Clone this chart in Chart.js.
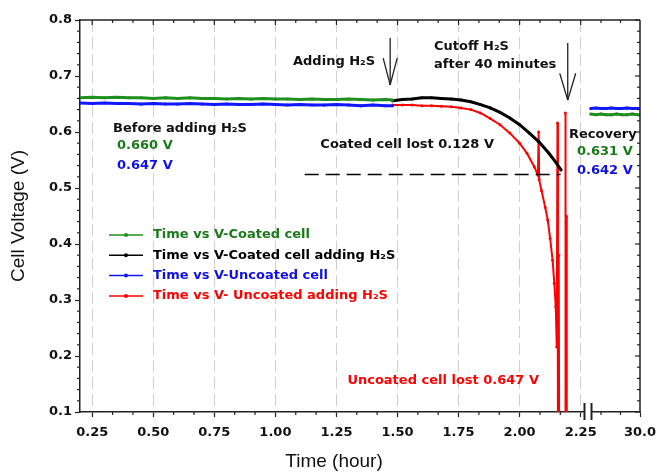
<!DOCTYPE html>
<html lang="en">
<head>
<meta charset="UTF-8">
<title>Cell Voltage vs Time</title>
<script src="https://cdn.jsdelivr.net/npm/chart.js"></script>
<style>
  body { margin: 0; background: #fff; }
  .wrap { width: 657px; height: 474px; position: relative; }
</style>
</head>
<body>
<div class="wrap"><canvas id="voltChart"></canvas></div>
<script>
// values: time in hours, voltage in V
const coatedTime = [0.20, 0.25, 0.30, 0.35, 0.40, 0.45, 0.50, 0.55, 0.60, 0.65, 0.70, 0.75, 0.80, 0.85,
  0.90, 0.95, 1.00, 1.05, 1.10, 1.15, 1.20, 1.25, 1.30, 1.35, 1.40, 1.45, 1.48];
const coatedV = [0.661, 0.662, 0.661, 0.662, 0.661, 0.661, 0.660, 0.661, 0.660, 0.661, 0.660, 0.660, 0.659, 0.660,
  0.659, 0.660, 0.659, 0.659, 0.658, 0.659, 0.658, 0.658, 0.659, 0.658, 0.657, 0.658, 0.657];
const uncoatedTime = coatedTime;
const uncoatedV = [0.652, 0.651, 0.652, 0.651, 0.651, 0.650, 0.651, 0.650, 0.650, 0.651, 0.650, 0.649, 0.650, 0.649,
  0.649, 0.650, 0.649, 0.648, 0.649, 0.648, 0.648, 0.649, 0.648, 0.647, 0.648, 0.647, 0.647];

const coatedH2sTime = [1.48, 1.52, 1.56, 1.60, 1.64, 1.68, 1.72, 1.76, 1.80, 1.84, 1.88, 1.92, 1.96, 2.00,
  2.04, 2.08, 2.12, 2.15, 2.17];
const coatedH2sV = [0.656, 0.658, 0.659, 0.661, 0.661, 0.660, 0.659, 0.657, 0.654, 0.649, 0.643, 0.635, 0.625, 0.613,
  0.598, 0.582, 0.562, 0.545, 0.532];

const uncoatedH2sTime = [1.48, 1.52, 1.56, 1.60, 1.64, 1.68, 1.72, 1.76, 1.80, 1.84, 1.88, 1.92, 1.96, 2.00,
  2.03, 2.06, 2.075, 2.078, 2.080, 2.09, 2.105, 2.115, 2.125, 2.135, 2.142, 2.148, 2.152, 2.155, 2.157, 2.160,
  2.162, 2.186, 2.187, 2.189, 2.191, 2.193];
const uncoatedH2sV = [0.648, 0.648, 0.648, 0.647, 0.647, 0.646, 0.645, 0.643, 0.640, 0.634, 0.624, 0.613, 0.598, 0.580,
  0.562, 0.538, 0.523, 0.600, 0.515, 0.495, 0.465, 0.443, 0.410, 0.371, 0.330, 0.288, 0.216, 0.616, 0.05, 0.38,
  0.05, 0.05, 0.634, 0.05, 0.45, 0.05];

// after the axis break (recovery at 30 h)
const recoveryTime = [29.81, 29.83, 29.85, 29.87, 29.89, 29.91, 29.93, 29.95, 29.97, 29.99, 30.0];
const recoveryCoatedV = [0.632, 0.631, 0.632, 0.631, 0.631, 0.632, 0.631, 0.631, 0.632, 0.631, 0.631];
const recoveryUncoatedV = [0.642, 0.643, 0.642, 0.642, 0.643, 0.642, 0.642, 0.643, 0.642, 0.642, 0.642];

const timeTicks = [0.25, 0.50, 0.75, 1.00, 1.25, 1.50, 1.75, 2.00, 2.25];
const recoveryTicks = [30.0];
const recoveryMinor = [29.85, 29.925];
const voltTicks = [0.1, 0.2, 0.3, 0.4, 0.5, 0.6, 0.7, 0.8];

const GREEN = '#1f8f1f', BLUE = '#1018ff', BLACK = '#000000', RED = '#ff0000';
const GREEN_TXT = '#1a7a1a', BLUE_TXT = '#1010e0';
const AXIS = '#222';
const BOLD = 'bold 13px "DejaVu Sans", sans-serif';

// minor ticks: 5 min on time axis, 0.02 V on voltage axis
const timeMinor = [];
for (let k = 1; k * 0.25 / 3 + 0.25 < 2.28; k++) {
  if (k % 3) timeMinor.push(0.25 + k * 0.25 / 3);
}
const voltMinor = [];
for (let k = 1; k < 35; k++) {
  if (k % 5) voltMinor.push(0.1 + k * 0.02);
}

const pts = (xs, ys) => xs.map((x, i) => ({ x, y: ys[i] }));

function series(label, xs, ys, color, width, axis) {
  return {
    label,
    data: pts(xs, ys),
    borderColor: color,
    backgroundColor: color,
    borderWidth: width,
    pointRadius: 1.5,
    pointBorderWidth: 0,
    showLine: true,
    xAxisID: axis || 'x',
    yAxisID: 'y'
  };
}

const notes = [
  { text: 'Before adding H₂S', x: 113, y: 129, color: '#111' },
  { text: '0.660 V', x: 117, y: 146, color: GREEN_TXT },
  { text: '0.647 V', x: 117, y: 166, color: BLUE_TXT },
  { text: 'Adding H₂S', x: 293, y: 62, color: '#111' },
  { text: 'Cutoff H₂S', x: 434, y: 47, color: '#111' },
  { text: 'after 40 minutes', x: 434, y: 65, color: '#111' },
  { text: 'Coated cell lost 0.128 V', x: 494, y: 145, color: '#111', align: 'right' },
  { text: 'Recovery', x: 569, y: 135, color: '#111' },
  { text: '0.631 V', x: 577, y: 152, color: GREEN_TXT },
  { text: '0.642 V', x: 577, y: 171, color: BLUE_TXT },
  { text: 'Uncoated cell lost 0.647 V', x: 539, y: 381, color: RED, align: 'right' }
];
const legendText = [GREEN_TXT, BLACK, BLUE_TXT, RED];

const framePlugin = {
  id: 'frame',
  afterDraw(chart) {
    const { ctx, chartArea: a, scales: { x, x2, y } } = chart;
    const line = (x0, y0, x1, y1) => { ctx.beginPath(); ctx.moveTo(x0, y0); ctx.lineTo(x1, y1); ctx.stroke(); };
    ctx.save();
    ctx.strokeStyle = AXIS;
    ctx.lineWidth = 1.5;
    line(a.left, a.top, a.right, a.top);
    line(a.right, a.top, a.right, a.bottom);

    ctx.lineWidth = 1.2;
    voltTicks.forEach(v => { const py = y.getPixelForValue(v); line(a.right, py, a.right - 5, py); });
    voltMinor.forEach(v => {
      const py = y.getPixelForValue(v);
      line(a.left, py, a.left - 3, py);
      line(a.right, py, a.right - 3, py);
    });
    timeTicks.forEach(t => { const px = x.getPixelForValue(t); line(px, a.top, px, a.top + 5); });
    timeMinor.forEach(t => {
      const px = x.getPixelForValue(t);
      line(px, a.bottom, px, a.bottom + 3);
      line(px, a.top, px, a.top + 3);
    });
    recoveryMinor.forEach(t => {
      const px = x2.getPixelForValue(t);
      line(px, a.bottom, px, a.bottom + 3);
      line(px, a.top, px, a.top + 3);
    });

    // axis break
    const bx = x.right;
    ctx.fillStyle = '#fff';
    ctx.fillRect(bx - 3, a.bottom - 2, 6, 4);
    ctx.lineWidth = 2;
    line(bx - 3.5, a.bottom - 9, bx - 3.5, a.bottom + 8);
    line(bx + 3.5, a.bottom - 9, bx + 3.5, a.bottom + 8);

    // dashed reference for coated loss
    ctx.lineWidth = 1.4;
    ctx.strokeStyle = '#000';
    ctx.setLineDash([14, 7]);
    const dy = Math.round(y.getPixelForValue(0.525)) + 0.5;
    line(x.getPixelForValue(1.12), dy, x.getPixelForValue(2.168), dy);
    ctx.setLineDash([]);

    // arrows
    ctx.strokeStyle = '#222';
    ctx.lineWidth = 1.3;
    [[1.47, 0.768, 0.732, 0.684, 7], [2.197, 0.759, 0.705, 0.657, 8]].forEach(([t, vTop, vHead, vTip, w]) => {
      const px = x.getPixelForValue(t);
      const top = y.getPixelForValue(vTop), head = y.getPixelForValue(vHead), tip = y.getPixelForValue(vTip);
      line(px, top, px, tip);
      line(px - w, head, px, tip);
      line(px + w, head, px, tip);
    });

    // text notes
    ctx.font = BOLD;
    ctx.textBaseline = 'middle';
    notes.forEach(n => {
      ctx.fillStyle = n.color;
      ctx.textAlign = n.align || 'left';
      ctx.fillText(n.text, n.x, n.y);
    });

    // legend inside the plot
    ctx.textAlign = 'left';
    chart.data.datasets.slice(0, 4).forEach((ds, i) => {
      const ly = 235 + i * 20.3;
      ctx.strokeStyle = ds.borderColor;
      ctx.lineWidth = 1.5;
      line(109, ly, 143, ly);
      ctx.fillStyle = ds.borderColor;
      ctx.beginPath(); ctx.arc(126, ly, 2, 0, Math.PI * 2); ctx.fill();
      ctx.fillStyle = legendText[i];
      ctx.fillText(ds.label, 153, ly);
    });
    ctx.restore();
  }
};

const tickFont = { family: '"DejaVu Sans", sans-serif', size: 13, weight: 'bold' };
const titleFont = { family: '"Liberation Sans", Arial, sans-serif', size: 19 };

// keep the plot edges fixed: labels may hang past them
const fixHeight = s => { s.height = 62; s.paddingLeft = 0; s.paddingRight = 0; };

new Chart(document.getElementById('voltChart'), {
  type: 'scatter',
  data: {
    datasets: [
      series('Time vs V-Coated cell', coatedTime, coatedV, GREEN, 3),
      series('Time vs V-Coated cell adding H₂S', coatedH2sTime, coatedH2sV, BLACK, 3),
      series('Time vs V-Uncoated cell', uncoatedTime, uncoatedV, BLUE, 3),
      series('Time vs V- Uncoated adding H₂S', uncoatedH2sTime, uncoatedH2sV, RED, 2),
      series('Recovery coated', recoveryTime, recoveryCoatedV, GREEN, 3, 'x2'),
      series('Recovery uncoated', recoveryTime, recoveryUncoatedV, BLUE, 3, 'x2')
    ]
  },
  options: {
    responsive: true,
    maintainAspectRatio: false,
    animation: false,
    layout: { padding: { top: 20, right: 17, left: 0, bottom: 0 } },
    plugins: { legend: { display: false }, tooltip: { enabled: false } },
    scales: {
      x: {
        type: 'linear', position: 'bottom', stack: 'time', stackWeight: 508,
        min: 0.2, max: 2.28,
        afterBuildTicks: s => { s.ticks = timeTicks.map(v => ({ value: v })); },
        afterFit: fixHeight,
        ticks: { font: tickFont, color: '#111', padding: 8, maxRotation: 0, autoSkip: false,
          callback: v => v.toFixed(2) },
        grid: { color: '#cfcfcf', lineWidth: 1, tickColor: AXIS, tickLength: 5, tickWidth: 1.2 },
        border: { color: AXIS, width: 1.5, dash: [12, 5] },
        title: { display: true, text: 'Time (hour)', font: titleFont, color: '#111', padding: { top: 0, bottom: 1 } }
      },
      x2: {
        type: 'linear', position: 'bottom', stack: 'time', stackWeight: 52,
        min: 29.8, max: 30.0,
        afterBuildTicks: s => { s.ticks = recoveryTicks.map(v => ({ value: v })); },
        afterFit: fixHeight,
        ticks: { font: tickFont, color: '#111', padding: 8, maxRotation: 0, autoSkip: false,
          callback: v => v.toFixed(1) },
        grid: { drawOnChartArea: false, tickColor: AXIS, tickLength: 5, tickWidth: 1.2 },
        border: { color: AXIS, width: 1.5 }
      },
      y: {
        type: 'linear', position: 'left',
        min: 0.1, max: 0.8,
        afterBuildTicks: s => { s.ticks = voltTicks.map(v => ({ value: v })); },
        afterFit: s => { s.width = 80; s.paddingTop = 0; s.paddingBottom = 0; },
        ticks: { font: tickFont, color: '#111', padding: 3, callback: v => v.toFixed(1) },
        grid: { drawOnChartArea: false, tickColor: AXIS, tickLength: 5, tickWidth: 1.2 },
        border: { color: AXIS, width: 1.5 },
        title: { display: true, text: 'Cell Voltage (V)', font: titleFont, color: '#111', padding: { top: 7, bottom: 0 } }
      }
    }
  },
  plugins: [framePlugin]
});
</script>
</body>
</html>
